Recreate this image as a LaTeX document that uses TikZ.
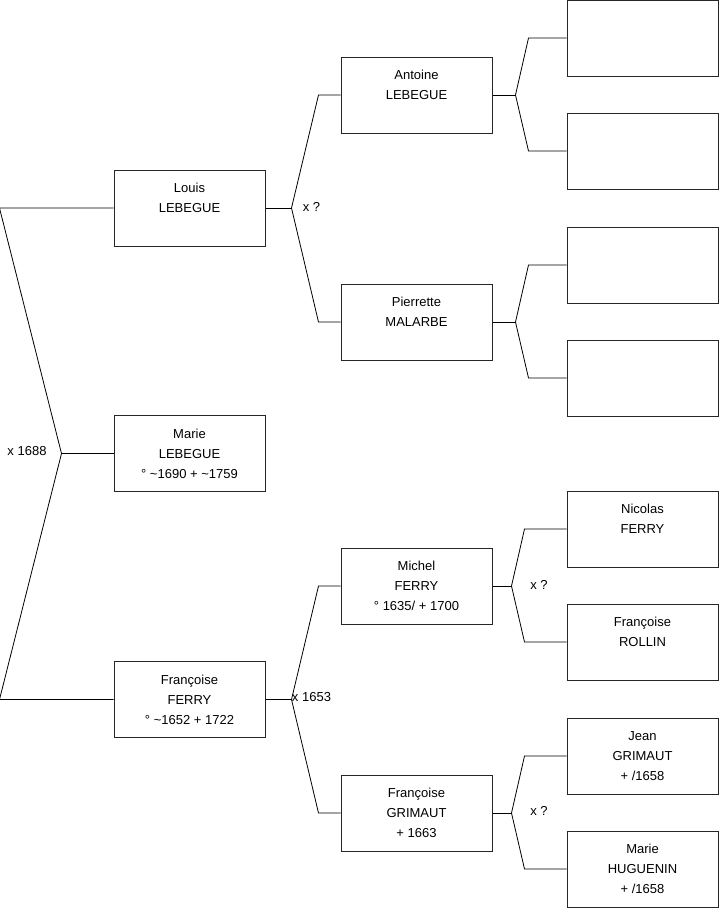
\documentclass[tikz,border=0pt]{standalone}
\usepackage{fontspec}
\setmainfont{Liberation Sans}
\begin{document}
\begin{tikzpicture}[x=1pt, y=-1pt, font=\fontsize{13}{20}\selectfont,
  box/.style={draw=black!85, line width=1pt, minimum width=151pt, minimum height=76pt, inner sep=0pt, align=center},
  link/.style={draw, line width=0.8pt}]
\useasboundingbox (0,0) rectangle (719,908);
\node[box] (louis) at (189.5,208) {Louis\\LEBEGUE\\\rule{0pt}{2pt}};
\node[box] (marie) at (189.5,453.5) {Marie\\LEBEGUE\\° \textasciitilde1690 + \textasciitilde1759};
\node[box] (francoise) at (189.5,699.5) {Françoise\\FERRY\\° \textasciitilde1652 + 1722};
\node[box] (antoine) at (416.5,95) {Antoine\\LEBEGUE\\\rule{0pt}{2pt}};
\node[box] (pierrette) at (416.5,322) {Pierrette\\MALARBE\\\rule{0pt}{2pt}};
\node[box] (michel) at (416.5,586) {Michel\\FERRY\\° 1635/ + 1700};
\node[box] (grimaut) at (416.5,813) {Françoise\\GRIMAUT\\+ 1663};
\node[box] (antoineF) at (642.5,38) {};
\node[box] (antoineM) at (642.5,151) {};
\node[box] (pierretteF) at (642.5,265) {};
\node[box] (pierretteM) at (642.5,378) {};
\node[box] (nicolas) at (642.5,529) {Nicolas\\FERRY\\\rule{0pt}{2pt}};
\node[box] (rollin) at (642.5,642) {Françoise\\ROLLIN\\\rule{0pt}{2pt}};
\node[box] (jean) at (642.5,756) {Jean\\GRIMAUT\\+ /1658};
\node[box] (huguenin) at (642.5,869) {Marie\\HUGUENIN\\+ /1658};
\coordinate (fk0) at ([xshift=-52pt]marie.west);
\coordinate (fk1) at ([xshift=26pt]louis.east);
\coordinate (fk2) at ([xshift=26pt]francoise.east);
\coordinate (fk3) at ([xshift=23pt]antoine.east);
\coordinate (fk4) at ([xshift=23pt]pierrette.east);
\coordinate (fk5) at ([xshift=19pt]michel.east);
\coordinate (fk6) at ([xshift=19pt]grimaut.east);
\draw[link] (louis.west) -- ([xshift=-114pt]louis.west) -- (fk0) -- ([xshift=-114pt]francoise.west) -- (francoise.west);
\draw[link] (fk0) -- (marie.west);
\draw[link] (louis.east) -- (fk1);
\draw[link] (antoine.west) -- ([xshift=-22pt]antoine.west) -- (fk1) -- ([xshift=-22pt]pierrette.west) -- (pierrette.west);
\draw[link] (francoise.east) -- (fk2);
\draw[link] (michel.west) -- ([xshift=-22pt]michel.west) -- (fk2) -- ([xshift=-22pt]grimaut.west) -- (grimaut.west);
\draw[link] (antoine.east) -- (fk3);
\draw[link] (antoineF.west) -- ([xshift=-38pt]antoineF.west) -- (fk3) -- ([xshift=-38pt]antoineM.west) -- (antoineM.west);
\draw[link] (pierrette.east) -- (fk4);
\draw[link] (pierretteF.west) -- ([xshift=-38pt]pierretteF.west) -- (fk4) -- ([xshift=-38pt]pierretteM.west) -- (pierretteM.west);
\draw[link] (michel.east) -- (fk5);
\draw[link] (nicolas.west) -- ([xshift=-42pt]nicolas.west) -- (fk5) -- ([xshift=-42pt]rollin.west) -- (rollin.west);
\draw[link] (grimaut.east) -- (fk6);
\draw[link] (jean.west) -- ([xshift=-42pt]jean.west) -- (fk6) -- ([xshift=-42pt]huguenin.west) -- (huguenin.west);
\node (m0) at (27,451) {x 1688};
\node (m1) at (311.5,207) {x ?};
\node (m2) at (311.5,697.5) {x 1653};
\node (m3) at (539,584.5) {x ?};
\node (m4) at (539,811) {x ?};
\end{tikzpicture}
\end{document}
